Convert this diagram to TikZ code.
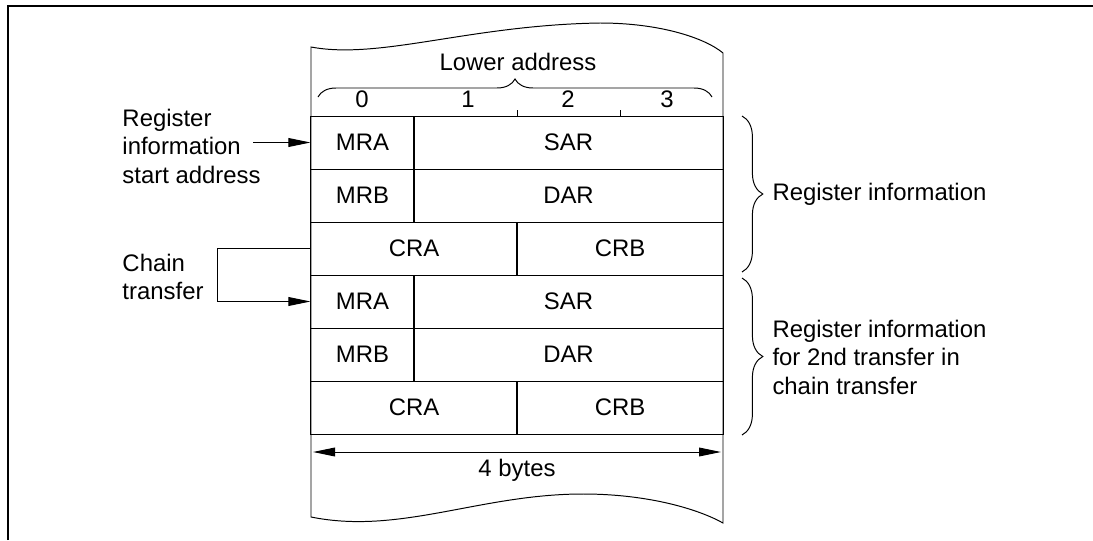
\documentclass[tikz,border=0pt]{standalone}
\usepackage{fontspec}
\setmainfont{Liberation Sans}
\usetikzlibrary{arrows.meta,decorations.pathreplacing}
\begin{document}
\begin{tikzpicture}[x=0.025cm, y=-0.025cm, line width=0.7pt,
  every node/.style={font=\fontsize{17}{20.3}\selectfont}]
\tikzset{
  cell/.style={draw, inner sep=0pt, minimum height=1.325cm},
  c1/.style={cell, minimum width=2.575cm},
  c2/.style={cell, minimum width=5.15cm},
  c3/.style={cell, minimum width=7.725cm},
  lab/.style={inner sep=0pt},
  arr/.style={-{Triangle[length=0.55cm, width=0.22cm]}},
  dbl/.style={{Triangle[length=0.55cm, width=0.22cm]}-{Triangle[length=0.55cm, width=0.22cm]}},
  brc/.style={decorate, decoration={brace, amplitude=#1}}
}
\useasboundingbox (0,0) rectangle (1093,540);

% --- frame ---
\draw[line width=2pt] (8,540) -- (8,6) -- (1093,6);

% --- memory outline ---
\draw (311,47) .. controls (380,60) and (470,25) .. (600,23)
  .. controls (660,23) and (705,38) .. (723,53) -- (723,523)
  .. controls (700,510) and (650,494) .. (583,494)
  .. controls (480,494) and (400,535) .. (311,517) -- cycle;

% --- lower address ---
\node[lab] (la) at (518,62) {Lower address};
\draw[brc=0.45cm] (318,97) -- (712,97);
\node[lab] (n0) at (362,99) {0};
\node[lab] (n1) at (468,99) {1};
\node[lab] (n2) at (568,99) {2};
\node[lab] (n3) at (667,99) {3};
\draw (517,110) -- (517,116); \draw (620,110) -- (620,116);

% --- first register information ---
\node[c1] (a1) at (362.5,142.5) {MRA};
\node[c3] (a2) at (568.5,142.5) {SAR};
\node[c1] (a3) at (362.5,195.5) {MRB};
\node[c3] (a4) at (568.5,195.5) {DAR};
\node[c2] (a5) at (414,248.5) {CRA};
\node[c2] (a6) at (620,248.5) {CRB};

% --- second register information ---
\node[c1] (b1) at (362.5,301.5) {MRA};
\node[c3] (b2) at (568.5,301.5) {SAR};
\node[c1] (b3) at (362.5,354.5) {MRB};
\node[c3] (b4) at (568.5,354.5) {DAR};
\node[c2] (b5) at (414,407.5) {CRA};
\node[c2] (b6) at (620,407.5) {CRB};

% --- width ---
\coordinate (w1) at (313,452); \coordinate (w2) at (721,452);
\draw[dbl] (w1) -- (w2);
\node[lab] (wb) at (517,470) {4 bytes};

% --- left labels ---
\node[lab, align=left, anchor=west] (st) at (122,146) {Register\\information\\start address};
\coordinate (s0) at (253,142.5);
\draw[arr] (s0) -- (a1.west);
\node[lab, align=left, anchor=west] (ct) at (122,277) {Chain\\transfer};
\coordinate (ch) at (217,248.5);
\draw[arr] (a5.west) -- (ch) |- (b1.west);

% --- right labels ---
\draw[brc=0.52cm] (742,116) -- (742,272);
\node[lab, anchor=west] (r1) at (772,194.5) {Register information};
\draw[brc=0.52cm] (742,278) -- (742,435);
\node[lab, align=left, anchor=west] (r2) at (772,357) {Register information\\for 2nd transfer in\\chain transfer};
\end{tikzpicture}
\end{document}
